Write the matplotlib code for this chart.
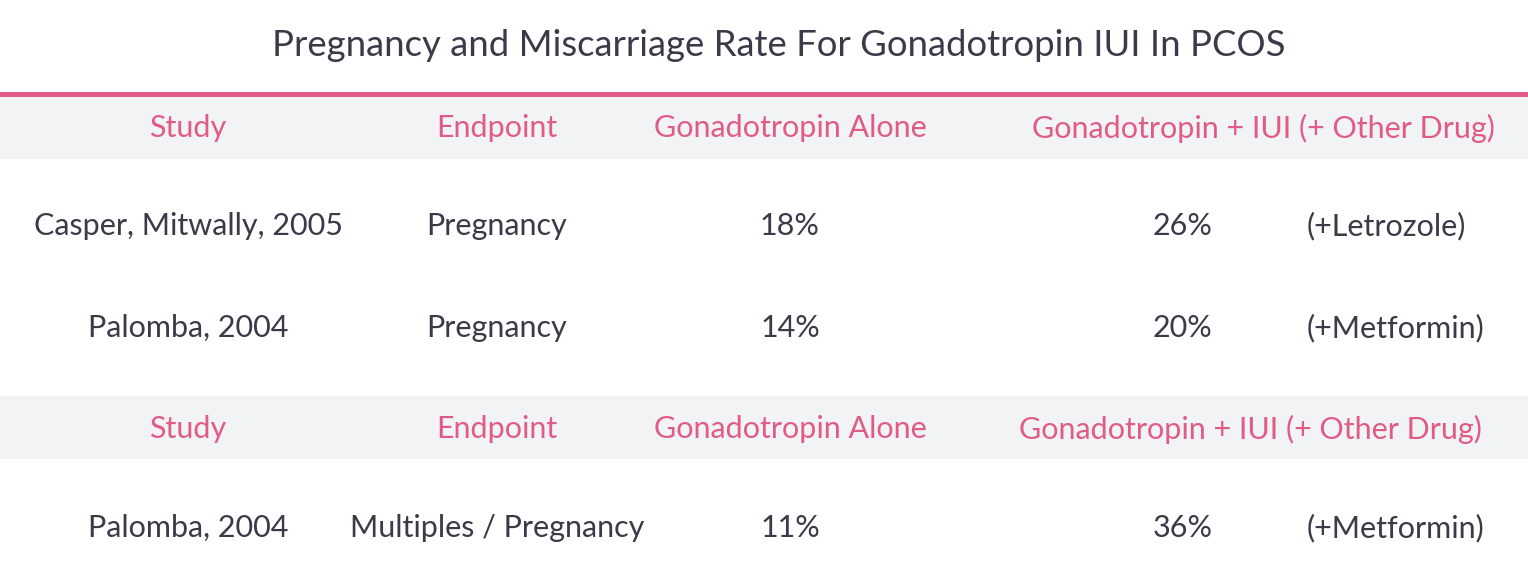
import matplotlib.pyplot as plt
from matplotlib.patches import Rectangle

# table content
title = "Pregnancy and Miscarriage Rate For Gonadotropin IUI In PCOS"
headers = ["Study", "Endpoint", "Gonadotropin Alone", "Gonadotropin + IUI (+ Other Drug)"]
studies = ["Casper, Mitwally, 2005", "Palomba, 2004", "Palomba, 2004"]
endpoints = ["Pregnancy", "Pregnancy", "Multiples / Pregnancy"]
alone = ["18%", "14%", "11%"]
combo = ["26%", "20%", "36%"]
other_drug = ["(+Letrozole)", "(+Metformin)", "(+Metformin)"]

pink = "#E05C87"
band = "#F2F3F4"
dark = "#3A3A48"
plt.rcParams['font.family'] = ['Lato', 'DejaVu Sans']

W, H = 1528, 576
fs = 22
fig = plt.figure(figsize=(W / 100, H / 100), dpi=100)
ax = fig.add_axes([0, 0, 1, 1])
ax.set_xlim(0, W)
ax.set_ylim(H, 0)
ax.axis('off')

ax.text(W / 2 + 15, 46, title, ha='center', va='center', fontsize=26.3, color=dark)
ax.add_patch(Rectangle((0, 92), W, 5, color=pink, lw=0))

# header bands: (top, bottom, text y, x of last header)
bands = [(97, 159, 128, 1263), (396, 459, 429, 1250)]
col_x = [188, 497, 790]
for top, bot, ty, lastx in bands:
    ax.add_patch(Rectangle((0, top), W, bot - top, color=band, lw=0))
    for x, h in zip(col_x + [lastx], headers):
        ax.text(x, ty, h, ha='center', va='center', fontsize=fs, color=pink)

row_y = [226, 328, 528]
for i, y in enumerate(row_y):
    ax.text(col_x[0], y, studies[i], ha='center', va='center', fontsize=fs, color=dark)
    ax.text(col_x[1], y, endpoints[i], ha='center', va='center', fontsize=fs, color=dark)
    ax.text(col_x[2], y, alone[i], ha='center', va='center', fontsize=fs, color=dark)
    ax.text(1183, y, combo[i], ha='center', va='center', fontsize=fs, color=dark)
    ax.text(1307, y, other_drug[i], ha='left', va='center', fontsize=fs, color=dark)

fig.savefig('out.png', dpi=100)
